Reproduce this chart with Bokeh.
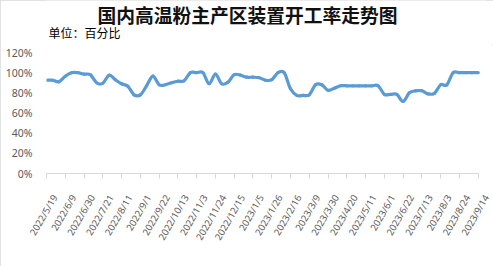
import numpy as np
from bokeh.plotting import figure
from bokeh.layouts import column
from bokeh.models import Range1d, FixedTicker, LinearAxis
from bokeh.core.properties import value
from bokeh.embed import file_html
from bokeh.resources import INLINE

title_text = "国内高温粉主产区装置开工率走势图"
unit_text = "单位：百分比"

# weekly dates shown on the axis (every third week)
tick_labels = [
    "2022/5/19", "2022/6/9", "2022/6/30", "2022/7/21", "2022/8/11", "2022/9/1",
    "2022/9/22", "2022/10/13", "2022/11/3", "2022/11/24", "2022/12/15", "2023/1/5",
    "2023/1/26", "2023/2/16", "2023/3/9", "2023/3/30", "2023/4/20", "2023/5/11",
    "2023/6/1", "2023/6/22", "2023/7/13", "2023/8/3", "2023/8/24", "2023/9/14",
]

# weekly operating rate, %
rate = [
    92.5, 92.5, 91, 96.5, 100, 100, 98.5, 98, 90, 89.5,
    97.5, 93, 89, 86.5, 78, 78, 87, 96.5, 88, 88,
    90, 91.5, 92, 100, 100, 100, 89, 98.5, 89, 90.5,
    98, 97.5, 95.5, 95.5, 95, 92.5, 93, 100, 100, 84,
    77.5, 77.5, 78, 88, 88, 82.5, 84.5, 87, 87, 87,
    87, 87, 87, 87, 78.5, 78.5, 78.5, 71.5, 80, 82,
    82, 79, 79.5, 88, 88, 100, 100, 100, 100, 100,
]

y_ticks = [0, 20, 40, 60, 80, 100, 120]
y_tick_labels = ["0%", "20%", "40%", "60%", "80%", "100%", "120%"]

W = 493
HEAD_H = 44
LEFT, RIGHT = 46, 7          # border widths shared by both stacked figures

# header strip: chart title and unit note (pixel coordinates, y downwards)
head = figure(
    width=W, height=HEAD_H, output_backend="svg", toolbar_location=None,
    x_range=Range1d(LEFT, W - RIGHT), y_range=Range1d(HEAD_H, 0),
    x_axis_location=None, y_axis_location=None,
    min_border_left=LEFT, min_border_right=RIGHT, min_border_top=0, min_border_bottom=0,
    background_fill_color="white", border_fill_color="white",
)
head.outline_line_color = None
head.grid.visible = False
head.text(x=[247], y=[14], text=[title_text], text_align="center",
          text_baseline="middle", text_font=value("Noto Sans CJK SC"),
          text_font_style="bold", text_font_size="18.75px", text_color="#111111")
head.text(x=[48], y=[32], text=[unit_text], text_align="left",
          text_baseline="middle", text_font=value("Noto Sans CJK SC"),
          text_font_size="12px", text_color="#000000")

n = len(rate)
x = np.arange(n, dtype=float)
y = np.array(rate, dtype=float)

# the frame reaches a little past the last week so the last date label fits
pad = 1.33
p = figure(
    width=W, height=266 - HEAD_H, output_backend="svg", toolbar_location=None,
    title=None,
    x_range=Range1d(0, n - 1 + pad), y_range=Range1d(0, 120),
    min_border_left=LEFT, min_border_right=RIGHT, min_border_top=8, min_border_bottom=93,
    background_fill_color="white", border_fill_color="white",
)
p.outline_line_color = None
p.grid.visible = False

# smooth curve through the weekly points (Catmull-Rom as cubic Beziers)
ypad = np.concatenate([[y[0]], y, [y[-1]]])
x0, x1 = x[:-1], x[1:]
y0, y1 = y[:-1], y[1:]
cx0 = x0 + 1.0 / 3
cx1 = x1 - 1.0 / 3
cy0 = y0 + (ypad[2:n + 1] - ypad[0:n - 1]) / 6.0
cy1 = y1 - (ypad[3:n + 2] - ypad[1:n]) / 6.0
p.bezier(x0=x0, y0=y0, x1=x1, y1=y1, cx0=cx0, cy0=cy0, cx1=cx1, cy1=cy1,
         line_color="#5b9bd5", line_width=3.2, line_cap="round")

# y axis
p.yaxis.ticker = FixedTicker(ticks=y_ticks)
p.yaxis.major_label_overrides = {t: s for t, s in zip(y_ticks, y_tick_labels)}
p.yaxis.axis_line_color = None
p.yaxis.major_tick_line_color = None
p.yaxis.minor_tick_line_color = None
p.yaxis.major_label_standoff = 8
p.yaxis.major_label_text_font = "Noto Sans"
p.yaxis.major_label_text_font_size = "10.5px"
p.yaxis.major_label_text_color = "#595959"

# x axis: line and (unlabelled) tick marks every third week
xt = list(range(0, n, 3))
p.xaxis.ticker = FixedTicker(ticks=[], minor_ticks=xt)
p.xaxis.bounds = (0, n - 1)
p.xaxis.axis_line_color = "#d9d9d9"
p.xaxis.major_tick_line_color = None
p.xaxis.minor_tick_line_color = "#d9d9d9"
p.xaxis.minor_tick_in = 0
p.xaxis.minor_tick_out = 5
p.xaxis.major_label_standoff = 0

# rotated date labels, set a little to the right of their tick marks
p.extra_x_ranges = {"labels": Range1d(-pad, n - 1)}
lab_axis = LinearAxis(x_range_name="labels", ticker=FixedTicker(ticks=xt))
lab_axis.major_label_overrides = {t: s for t, s in zip(xt, tick_labels)}
lab_axis.axis_line_color = None
lab_axis.major_tick_line_color = None
lab_axis.minor_tick_line_color = None
lab_axis.major_label_orientation = np.deg2rad(60)
lab_axis.major_label_standoff = 11
lab_axis.major_label_text_font = "Noto Sans"
lab_axis.major_label_text_font_size = "9.5px"
lab_axis.major_label_text_color = "#595959"
p.add_layout(lab_axis, "below")

page = column(head, p, spacing=0,
              styles={"outline": "1px solid #d9d9d9", "outline-offset": "-1px"})

open("out.html", "w").write(file_html(page, INLINE))
